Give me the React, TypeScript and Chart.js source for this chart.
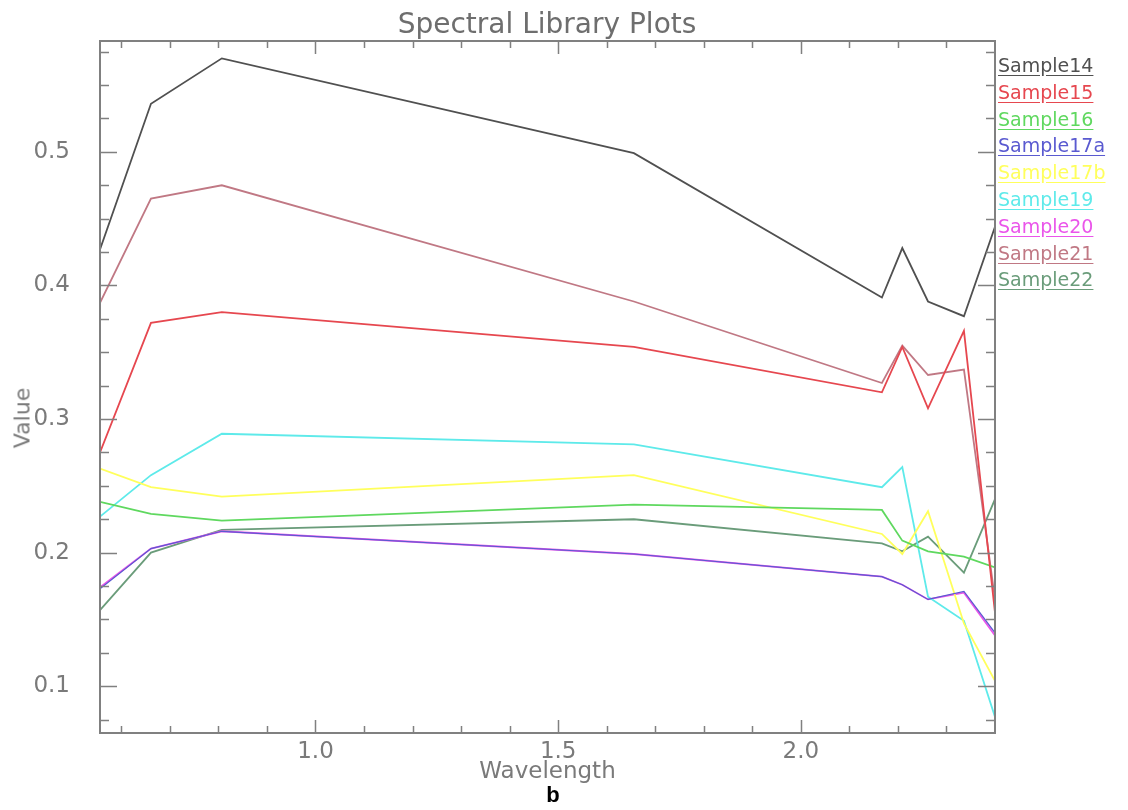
import React, { useEffect, useRef } from "react";
import { Chart, registerables } from "chart.js";

Chart.register(...registerables);

// ---- Data ----
const wavelengths = [0.556, 0.661, 0.807, 1.656, 2.167, 2.209, 2.262, 2.336, 2.4];

const sample14 = [0.427, 0.536, 0.57, 0.499, 0.391, 0.428, 0.388, 0.377, 0.444];
const sample15 = [0.275, 0.372, 0.38, 0.354, 0.32, 0.354, 0.308, 0.366, 0.155];
const sample16 = [0.238, 0.229, 0.224, 0.236, 0.232, 0.209, 0.201, 0.197, 0.189];
const sample17a = [0.173, 0.203, 0.216, 0.199, 0.182, 0.176, 0.165, 0.171, 0.14];
const sample17b = [0.263, 0.249, 0.242, 0.258, 0.214, 0.199, 0.231, 0.147, 0.104];
const sample19 = [0.227, 0.258, 0.289, 0.281, 0.249, 0.264, 0.167, 0.149, 0.077];
const sample20 = [0.174, 0.203, 0.216, 0.199, 0.182, 0.176, 0.165, 0.17, 0.138];
const sample21 = [0.387, 0.465, 0.475, 0.388, 0.327, 0.355, 0.333, 0.337, 0.165];
const sample22 = [0.157, 0.2, 0.217, 0.225, 0.207, 0.201, 0.212, 0.185, 0.24];

const seriesNames = ["Sample14", "Sample15", "Sample16", "Sample17a", "Sample17b", "Sample19", "Sample20", "Sample21", "Sample22"];
const seriesValues = [sample14, sample15, sample16, sample17a, sample17b, sample19, sample20, sample21, sample22];
const seriesColors = ["#505050", "#e6474f", "#5fd85f", "#5a5ad0", "#ffff5c", "#5eeaea", "#ea55ea", "#c07884", "#6a9c7a"];
const seriesWidths = [1.8, 1.8, 1.8, 1.2, 1.8, 1.8, 1.8, 1.8, 1.8];

const xTickValues = [1.0, 1.5, 2.0];
const yTickValues = [0.1, 0.2, 0.3, 0.4, 0.5];

const X_MIN = 0.556;
const X_MAX = 2.4;
const Y_MIN = 0.065;
const Y_MAX = 0.583;

const TEXT_GRAY = "#7a7a7a";
const FONT = "'DejaVu Sans', sans-serif";

const framePlugin = {
  id: "idlFrame",
  afterDatasetsDraw(chart: any) {
    const { ctx, chartArea: a, scales } = chart;
    const xs = scales.x;
    const ys = scales.y;
    ctx.save();
    ctx.strokeStyle = "#808080";
    ctx.lineWidth = 2;
    ctx.strokeRect(a.left, a.top, a.right - a.left, a.bottom - a.top);
    ctx.lineWidth = 1.5;
    ctx.beginPath();
    for (let i = 6; i <= 24; i++) {
      const px = Math.round(xs.getPixelForValue(i / 10)) + 0.5;
      if (px < a.left || px > a.right) continue;
      const len = i % 5 === 0 ? 13 : 7;
      ctx.moveTo(px, a.bottom);
      ctx.lineTo(px, a.bottom - len);
      ctx.moveTo(px, a.top);
      ctx.lineTo(px, a.top + len);
    }
    for (let i = 3; i <= 23; i++) {
      const py = Math.round(ys.getPixelForValue(i * 0.025)) + 0.5;
      if (py < a.top || py > a.bottom) continue;
      const len = i % 4 === 0 ? 17 : 9;
      ctx.moveTo(a.left, py);
      ctx.lineTo(a.left + len, py);
      ctx.moveTo(a.right, py);
      ctx.lineTo(a.right - len, py);
    }
    ctx.stroke();
    ctx.restore();
  },
};

export default function App() {
  const canvasRef = useRef<HTMLCanvasElement | null>(null);

  useEffect(() => {
    if (!canvasRef.current) return;
    const chart = new Chart(canvasRef.current, {
      type: "line",
      data: {
        datasets: seriesNames.map((name, i) => ({
          label: name,
          data: wavelengths.map((w, j) => ({ x: w, y: seriesValues[i][j] })),
          borderColor: seriesColors[i],
          backgroundColor: seriesColors[i],
          borderWidth: seriesWidths[i],
          pointRadius: 0,
          tension: 0,
          fill: false,
        })),
      },
      options: {
        animation: false,
        responsive: false,
        devicePixelRatio: 1,
        layout: { padding: { left: 0, right: 133, top: 41, bottom: 0 } },
        plugins: {
          legend: { display: false },
          tooltip: { enabled: false },
          title: { display: false },
        },
        scales: {
          x: {
            type: "linear",
            min: X_MIN,
            max: X_MAX,
            grid: { display: false },
            border: { display: false },
            afterBuildTicks: (scale: any) => {
              scale.ticks = xTickValues.map((v) => ({ value: v }));
            },
            afterFit: (scale: any) => {
              scale.height = 77;
            },
            ticks: {
              color: TEXT_GRAY,
              padding: -3,
              maxRotation: 0,
              font: { family: FONT, size: 23 },
              callback: (v: any) => Number(v).toFixed(1),
            },
            title: {
              display: true,
              text: "Wavelength",
              color: TEXT_GRAY,
              font: { family: FONT, size: 23, lineHeight: 1.2 },
              padding: { top: 0, bottom: 24 },
            },
          },
          y: {
            type: "linear",
            min: Y_MIN,
            max: Y_MAX,
            grid: { display: false },
            border: { display: false },
            afterBuildTicks: (scale: any) => {
              scale.ticks = yTickValues.map((v) => ({ value: v }));
            },
            afterFit: (scale: any) => {
              scale.width = 100;
            },
            ticks: {
              color: TEXT_GRAY,
              padding: 22,
              font: { family: FONT, size: 23 },
              callback: (v: any) => Number(v).toFixed(1),
            },
          },
        },
      },
      plugins: [framePlugin],
    });
    return () => chart.destroy();
  }, []);

  return (
    <div style={{ position: "fixed", left: 0, top: 0, width: 1128, height: 810, background: "#fff" }}>
      <canvas ref={canvasRef} width={1128} height={810} style={{ display: "block" }} />
      <div
        style={{
          position: "absolute",
          left: 547,
          top: 24,
          transform: "translate(-50%, -50%)",
          fontFamily: FONT,
          fontSize: 28,
          lineHeight: "32px",
          color: "#6e6e6e",
          whiteSpace: "nowrap",
        }}
      >
        Spectral Library Plots
      </div>
      <div
        style={{
          position: "absolute",
          left: 22,
          top: 418,
          transform: "translate(-50%, -50%) rotate(-90deg)",
          fontFamily: FONT,
          fontSize: 22,
          color: TEXT_GRAY,
          whiteSpace: "nowrap",
        }}
      >
        Value
      </div>
      {seriesNames.map((name, i) => (
        <div
          key={name}
          style={{
            position: "absolute",
            left: 998,
            top: 55 + i * 26.8,
            fontFamily: FONT,
            fontSize: 19,
            lineHeight: "20px",
            color: seriesColors[i],
            textDecoration: "underline",
            textUnderlineOffset: "3px",
            whiteSpace: "nowrap",
          }}
        >
          {name}
        </div>
      ))}
      <div
        style={{
          position: "absolute",
          left: 553,
          top: 783,
          transform: "translateX(-50%)",
          fontFamily: "'Liberation Sans', Arial, sans-serif",
          fontWeight: "bold",
          fontSize: 22,
          lineHeight: "24px",
          color: "#000",
        }}
      >
        b
      </div>
    </div>
  );
}
